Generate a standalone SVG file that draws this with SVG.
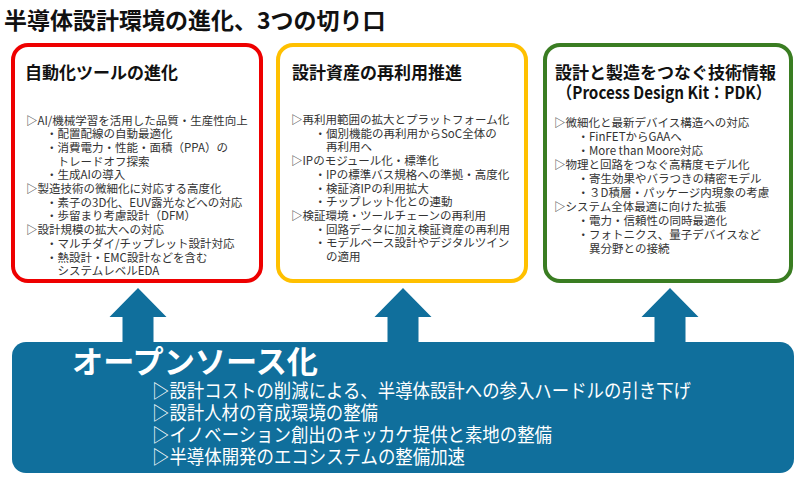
<svg xmlns="http://www.w3.org/2000/svg" width="800" height="480" viewBox="0 0 800 480">
<style>
text{font-family:"Noto Sans CJK JP","Noto Sans",sans-serif}
.ttl{font-size:23px;font-weight:bold;fill:#111}
.bt{font-size:17px;font-weight:bold;fill:#111}
.b{font-size:11.5px;fill:#333}
.frame{fill:#fff;stroke-width:4}
.arrow{fill:#106F9C}
.ob{fill:#fff;font-weight:bold;font-size:31px}
.ol{fill:#fff;font-size:19px}
</style>
<rect width="800" height="480" fill="#fff"/>
<g id="title"><text class="ttl" x="4" y="29">半導体設計環境の進化、3つの切り口</text></g>
<g id="connectors">
<polygon class="arrow" points="138,288 166.5,317 153.5,317 153.5,344 122.5,344 122.5,317 109.5,317"/>
<polygon class="arrow" points="403,288 431.5,317 418.5,317 418.5,344 387.5,344 387.5,317 374.5,317"/>
<polygon class="arrow" points="670,288 698.5,317 685.5,317 685.5,344 654.5,344 654.5,317 641.5,317"/>
</g>
<g id="box-automation">
<rect class="frame" x="13" y="45" width="248" height="236" rx="15" stroke="#EE0000"/>
<text class="bt" x="25" y="79">自動化ツールの進化</text>
<text class="b" x="26" y="124.5">▷AI/機械学習を活用した品質・生産性向上</text>
<text class="b" x="46" y="138.2">・配置配線の自動最適化</text>
<text class="b" x="46" y="151.9">・消費電力・性能・面積（PPA）の</text>
<text class="b" x="57.5" y="165.6">トレードオフ探索</text>
<text class="b" x="46" y="179.3">・生成AIの導入</text>
<text class="b" x="26" y="193">▷製造技術の微細化に対応する高度化</text>
<text class="b" x="46" y="206.7">・素子の3D化、EUV露光などへの対応</text>
<text class="b" x="46" y="220.4">・歩留まり考慮設計（DFM）</text>
<text class="b" x="26" y="234.1">▷設計規模の拡大への対応</text>
<text class="b" x="46" y="247.8">・マルチダイ/チップレット設計対応</text>
<text class="b" x="46" y="261.5">・熱設計・EMC設計などを含む</text>
<text class="b" x="57.5" y="275.2">システムレベルEDA</text>
</g>
<g id="box-reuse">
<rect class="frame" x="278" y="45" width="248" height="236" rx="15" stroke="#FFC000"/>
<text class="bt" x="292" y="79">設計資産の再利用推進</text>
<text class="b" x="291" y="124">▷再利用範囲の拡大とプラットフォーム化</text>
<text class="b" x="314.5" y="137.7">・個別機能の再利用からSoC全体の</text>
<text class="b" x="326" y="151.4">再利用へ</text>
<text class="b" x="291" y="165.1">▷IPのモジュール化・標準化</text>
<text class="b" x="314.5" y="178.8">・IPの標準バス規格への準拠・高度化</text>
<text class="b" x="314.5" y="192.5">・検証済IPの利用拡大</text>
<text class="b" x="314.5" y="206.2">・チップレット化との連動</text>
<text class="b" x="291" y="219.9">▷検証環境・ツールチェーンの再利用</text>
<text class="b" x="314.5" y="233.6">・回路データに加え検証資産の再利用</text>
<text class="b" x="314.5" y="247.3">・モデルベース設計やデジタルツイン</text>
<text class="b" x="326" y="261">の適用</text>
</g>
<g id="box-pdk">
<rect class="frame" x="545" y="45" width="246" height="236" rx="15" stroke="#3A7D22"/>
<text class="bt" x="555" y="79">設計と製造をつなぐ技術情報</text>
<text class="bt" x="557" y="99" textLength="214" lengthAdjust="spacingAndGlyphs">（Process Design Kit：PDK）</text>
<text class="b" x="554" y="126.5">▷微細化と最新デバイス構造への対応</text>
<text class="b" x="577.5" y="140.5">・FinFETからGAAへ</text>
<text class="b" x="577.5" y="154.5">・More than Moore対応</text>
<text class="b" x="554" y="168.5">▷物理と回路をつなぐ高精度モデル化</text>
<text class="b" x="577.5" y="182.5">・寄生効果やバラつきの精密モデル</text>
<text class="b" x="577.5" y="196.5">・３D積層・パッケージ内現象の考慮</text>
<text class="b" x="554" y="210.5">▷システム全体最適に向けた拡張</text>
<text class="b" x="577.5" y="224.5">・電力・信頼性の同時最適化</text>
<text class="b" x="577.5" y="238.5">・フォトニクス、量子デバイスなど</text>
<text class="b" x="589" y="252.5">異分野との接続</text>
</g>
<g id="box-opensource">
<rect x="12" y="342" width="782" height="131" rx="14" fill="#106F9C"/>
<text class="ob" x="72" y="373" textLength="246" lengthAdjust="spacingAndGlyphs">オープンソース化</text>
<text class="ol" x="152" y="398" textLength="539" lengthAdjust="spacingAndGlyphs">▷設計コストの削減による、半導体設計への参入ハードルの引き下げ</text>
<text class="ol" x="152" y="420" textLength="226" lengthAdjust="spacingAndGlyphs">▷設計人材の育成環境の整備</text>
<text class="ol" x="152" y="442" textLength="400" lengthAdjust="spacingAndGlyphs">▷イノベーション創出のキッカケ提供と素地の整備</text>
<text class="ol" x="152" y="463.5" textLength="313" lengthAdjust="spacingAndGlyphs">▷半導体開発のエコシステムの整備加速</text>
</g>
</svg>
